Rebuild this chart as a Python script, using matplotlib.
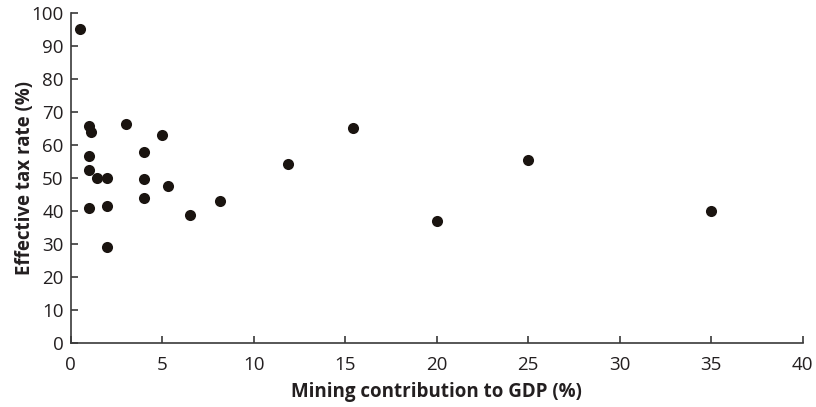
import matplotlib
matplotlib.use("Agg")
import matplotlib.pyplot as plt

# mining share of GDP (%) and effective tax rate (%)
mining_gdp = [0.5, 1.0, 1.1, 3.0, 5.0, 4.0, 1.0, 1.0, 1.45, 2.0, 4.0, 5.3,
              4.0, 1.0, 2.0, 6.5, 8.15, 11.9, 2.0, 15.45, 25.0, 20.0, 35.0]
tax_rate = [95.4, 66.0, 64.0, 66.5, 63.0, 58.0, 56.7, 52.5, 50.2, 50.2, 49.7, 47.8,
            44.2, 41.1, 41.7, 38.8, 43.0, 54.4, 29.2, 65.2, 55.5, 37.0, 40.0]

x_ticks = [0, 5, 10, 15, 20, 25, 30, 35, 40]
y_ticks = [0, 10, 20, 30, 40, 50, 60, 70, 80, 90, 100]

plt.rcParams['font.family'] = ['Open Sans', 'DejaVu Sans']

fig = plt.figure(figsize=(8.16, 4.07), dpi=100)
ax = fig.add_axes([0.0866, 0.1565, 0.8971, 0.8105])

ax.scatter(mining_gdp, tax_rate, s=64, color='#1a1410', zorder=3, linewidths=0)

ax.set_xlim(0, 40)
ax.set_ylim(0, 100)
ax.set_xticks(x_ticks)
ax.set_yticks(y_ticks)

for side in ['top', 'right']:
    ax.spines[side].set_visible(False)
for side in ['left', 'bottom']:
    ax.spines[side].set_linewidth(1.2)
    ax.spines[side].set_color('#3a3a3a')

ax.tick_params(direction='in', length=5, width=1.2, color='#3a3a3a',
               labelsize=13.5, labelcolor='#231f20')
ax.tick_params(axis='x', pad=9.5)
ax.tick_params(axis='y', pad=5)

ax.xaxis.set_label_coords(0.5, -0.147)
ax.yaxis.set_label_coords(-0.062, 0.5)
ax.set_xlabel("Mining contribution to GDP (%)", fontsize=13.5, fontweight='bold',
              color='#231f20', va='center')
ax.set_ylabel("Effective tax rate (%)", fontsize=13.5, fontweight='bold',
              color='#231f20', va='center')

fig.savefig("out.png", dpi=100)
